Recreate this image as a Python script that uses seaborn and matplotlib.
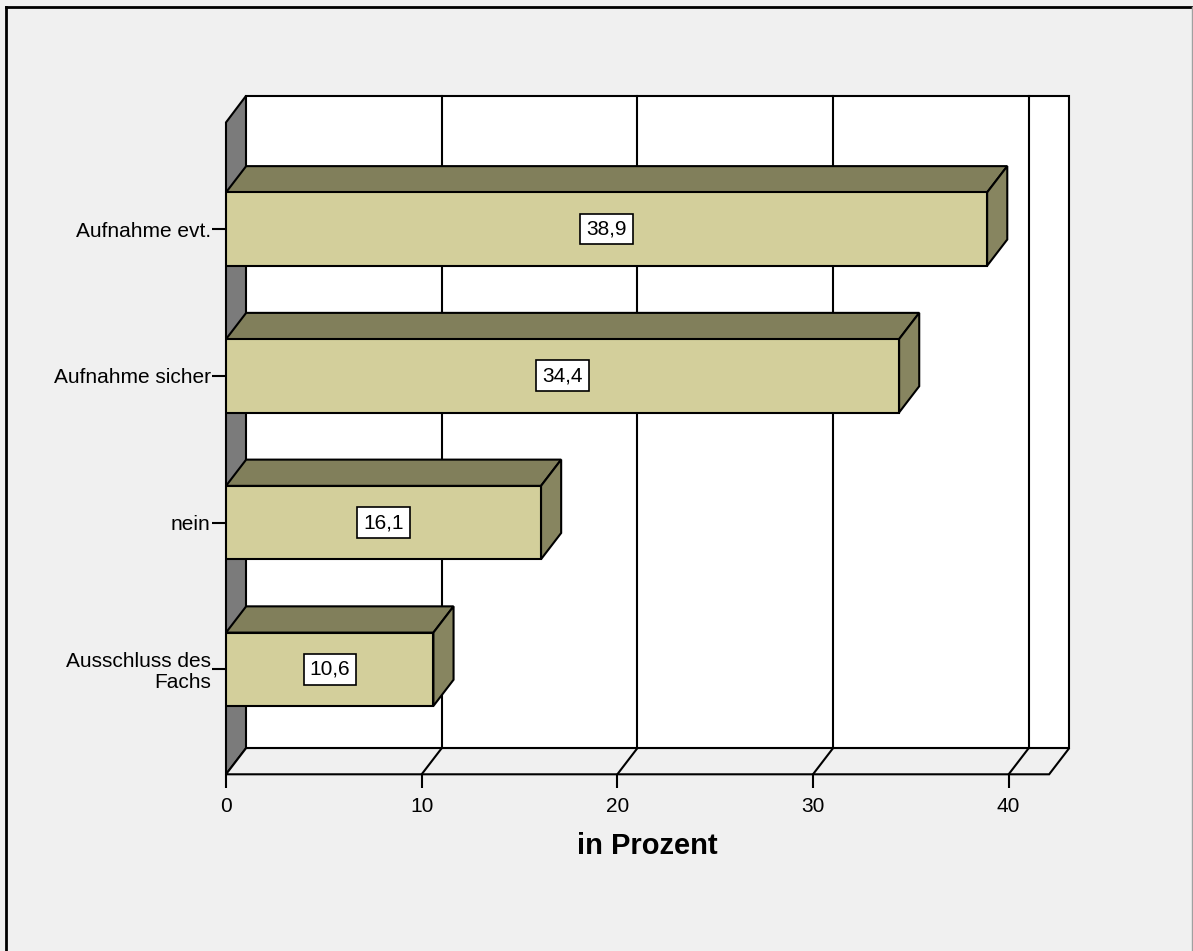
import matplotlib
matplotlib.use("Agg")
import matplotlib.pyplot as plt
import seaborn as sns
import pandas as pd
from matplotlib.patches import Polygon, Rectangle
from matplotlib.lines import Line2D

categories = ["Aufnahme evt.", "Aufnahme sicher", "nein", "Ausschluss des\nFachs"]
values = [38.9, 34.4, 16.1, 10.6]
x_ticks = [0, 10, 20, 30, 40]
x_label = "in Prozent"

plt.rcParams['font.family'] = ['Liberation Sans', 'DejaVu Sans']

BG = "#f0f0f0"
FRONT = "#d3cf9b"
TOP = "#817f5b"
SIDE = "#878560"
WALL = "#7b7b7b"
LW = 1.5

W, H = 1193, 951
fig = plt.figure(figsize=(W / 100, H / 100), dpi=100, facecolor=BG)

# axes covers front plane plus back wall (pixel layout of the original)
left_px, right_px, top_px, bottom_px = 226, 1069.3, 95.7, 774.3
ax = fig.add_axes([left_px / W, (H - bottom_px) / H,
                   (right_px - left_px) / W, (bottom_px - top_px) / H])
ax.set_facecolor("none")

x_max = 43.1          # back wall right edge
x_front = 42.07       # front floor right edge
dx = 1.03             # depth offset in x units
dy = 0.179            # depth offset in category units
y_bottom = 3.7155
y_top = -0.909
y_front_top = -0.727

df = pd.DataFrame({"cat": categories, "val": values})
sns.barplot(data=df, x="val", y="cat", orient="h", width=0.5, color=FRONT,
            saturation=1, edgecolor="black", linewidth=LW, ax=ax, zorder=3)
bars = list(ax.patches)

ax.set_xlim(0, x_max)
ax.set_ylim(y_bottom, y_top)

# left wall
ax.add_patch(Polygon([(0, y_bottom), (0, y_front_top), (dx, y_top), (dx, y_bottom - dy)],
                     closed=True, facecolor=WALL, edgecolor="black", lw=LW, zorder=1, clip_on=False))
# back wall
ax.add_patch(Rectangle((dx, y_top), x_max - dx, (y_bottom - dy) - y_top,
                       facecolor="white", edgecolor="black", lw=LW, zorder=1, clip_on=False))
# floor
ax.add_patch(Polygon([(0, y_bottom), (x_front, y_bottom), (x_max, y_bottom - dy), (dx, y_bottom - dy)],
                     closed=True, facecolor=BG, edgecolor="black", lw=LW, zorder=1, clip_on=False))
for t in x_ticks[1:]:
    ax.plot([t + dx, t + dx], [y_top, y_bottom - dy], color="black", lw=LW, zorder=1.5, clip_on=False)
    ax.plot([t, t + dx], [y_bottom, y_bottom - dy], color="black", lw=LW, zorder=1.5, clip_on=False)

for p, v in zip(bars, values):
    x0, x1 = p.get_x(), p.get_x() + p.get_width()
    yt, yb = p.get_y(), p.get_y() + p.get_height()
    ax.add_patch(Polygon([(x0, yt), (x1, yt), (x1 + dx, yt - dy), (x0 + dx, yt - dy)],
                         closed=True, facecolor=TOP, edgecolor="black", lw=LW, zorder=2.5))
    ax.add_patch(Polygon([(x1, yt), (x1, yb), (x1 + dx, yb - dy), (x1 + dx, yt - dy)],
                         closed=True, facecolor=SIDE, edgecolor="black", lw=LW, zorder=2.5))
    ax.text((x0 + x1) / 2, (yt + yb) / 2, f"{v:.1f}".replace(".", ","), ha="center", va="center",
            fontsize=15, zorder=4,
            bbox=dict(boxstyle="square,pad=0.28", facecolor="white", edgecolor="black", lw=1.2))

ax.set_xlim(0, x_max)
ax.set_ylim(y_bottom, y_top)
for s in ax.spines.values():
    s.set_visible(False)
ax.set_xticks(x_ticks)
ax.set_xticklabels([str(t) for t in x_ticks], fontsize=15)
ax.tick_params(axis="x", direction="out", length=10, width=LW, pad=6)
ax.tick_params(axis="y", direction="out", length=10, width=LW, pad=1, labelsize=15)
for lab in ax.get_yticklabels():
    lab.set_linespacing(1.1)
ax.set_ylabel("")
ax.set_xlabel(x_label, fontsize=21, fontweight="bold", labelpad=12)

# outer frame
fig.add_artist(Line2D([6 / W, 6 / W], [0, 1 - 7 / H], color="black", lw=2))
fig.add_artist(Line2D([6 / W, 1], [1 - 7 / H, 1 - 7 / H], color="black", lw=2))
fig.add_artist(Line2D([1192 / W, 1192 / W], [0, 1 - 7 / H], color="#a0a0a0", lw=1))

fig.savefig("out.png", dpi=100, facecolor=BG)
